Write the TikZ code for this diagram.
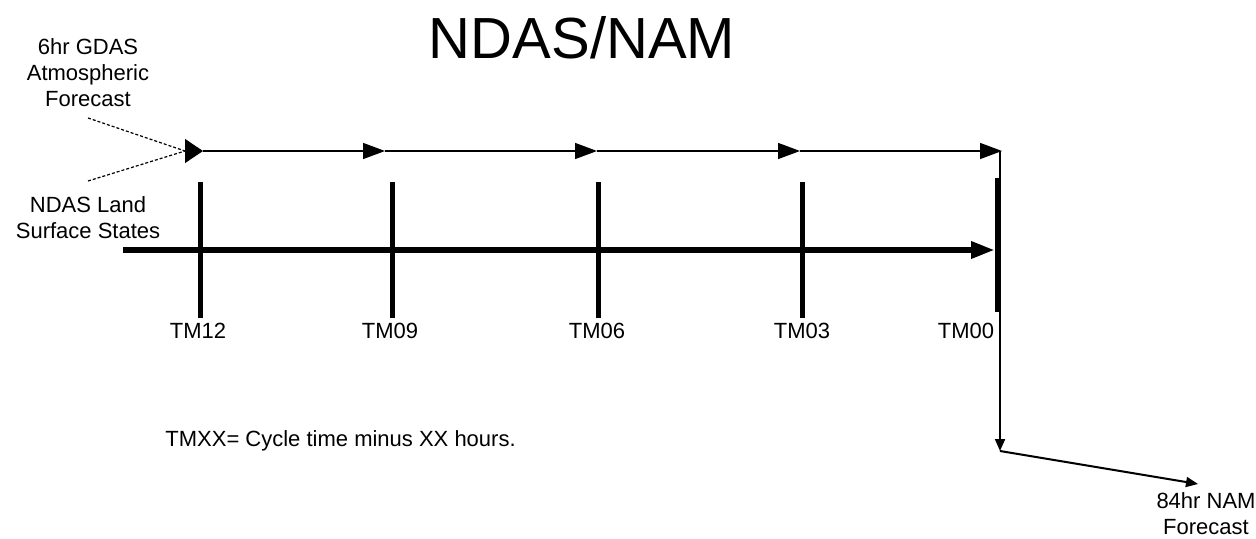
\documentclass[tikz,border=0pt]{standalone}
\usepackage{fontspec}
\setmainfont{Liberation Sans}
\usetikzlibrary{arrows.meta}
\begin{document}
\begin{tikzpicture}[x=0.5pt,y=-0.5pt,
  lbl/.style={font=\fontsize{11}{13}\selectfont,align=center,inner sep=0pt},
  thin arrow/.style={line width=0.75pt,-{Triangle[length=11pt,width=8pt]}},
  thick arrow/.style={line width=3pt,-{Triangle[length=12pt,width=8pt]}},
  tick/.style={line width=2.5pt},
  outarrow/.style={line width=1pt,-{Triangle[length=6pt,width=5pt]}},
  dotline/.style={line width=0.6pt,dash pattern=on 1.5pt off 1pt}]
\useasboundingbox (0,0) rectangle (1256,539);
% title
\node[font=\fontsize{29}{33}\selectfont,inner sep=0pt] (title) at (582,38) {NDAS/NAM};
% labels
\node[lbl] (gdas) at (88,73) {6hr GDAS\\Atmospheric\\Forecast};
\node[lbl] (land) at (88,218) {NDAS Land\\Surface States};
\node[lbl] (nam) at (1206,514) {84hr NAM\\Forecast};
\node[lbl,anchor=west] (note) at (165,441) {TMXX= Cycle time minus XX hours.};
% coordinates
\coordinate (s0) at (185,151);
\coordinate (a0) at (203,151);
\coordinate (a1) at (385,151);
\coordinate (a2) at (597,151);
\coordinate (a3) at (800,151);
\coordinate (a4) at (1000,151);
\coordinate (d1) at (1000,451);
\coordinate (e1) at (1198,484);
\coordinate (g1) at (88,118);
\coordinate (g2) at (88,181);
\coordinate (h0) at (123,250);
\coordinate (h1) at (995,250);
% dotted converging lines
\draw[dotline] (g1) -- (s0);
\draw[dotline] (g2) -- (s0);
% big arrowhead
\draw[line width=0.5pt,-{Triangle[length=9pt,width=12pt]}] (s0) -- (a0);
% top line
\draw[thin arrow] (a0) -- (a1);
\draw[thin arrow] (a1) -- (a2);
\draw[thin arrow] (a2) -- (a3);
\draw[thin arrow,shorten >=-1pt] (a3) -- (a4);
% down and out
\draw[outarrow] (a4) -- (d1);
\draw[outarrow] (d1) -- (e1);
% thick axis
\draw[thick arrow] (h0) -- (h1);
% ticks
\draw[tick] (200,182) coordinate (t12a) -- (200,318) coordinate (t12b);
\draw[tick] (392,182) coordinate (t09a) -- (392,318) coordinate (t09b);
\draw[tick] (598,182) coordinate (t06a) -- (598,318) coordinate (t06b);
\draw[tick] (802,182) coordinate (t03a) -- (802,318) coordinate (t03b);
\draw[line width=3pt] (998,178) coordinate (t00a) -- (998,312) coordinate (t00b);
% tick labels
\node[lbl] (tm12) at (198,331) {TM12};
\node[lbl] (tm09) at (390,331) {TM09};
\node[lbl] (tm06) at (597,331) {TM06};
\node[lbl] (tm03) at (802,331) {TM03};
\node[lbl] (tm00) at (966,331) {TM00};
\end{tikzpicture}
\end{document}
